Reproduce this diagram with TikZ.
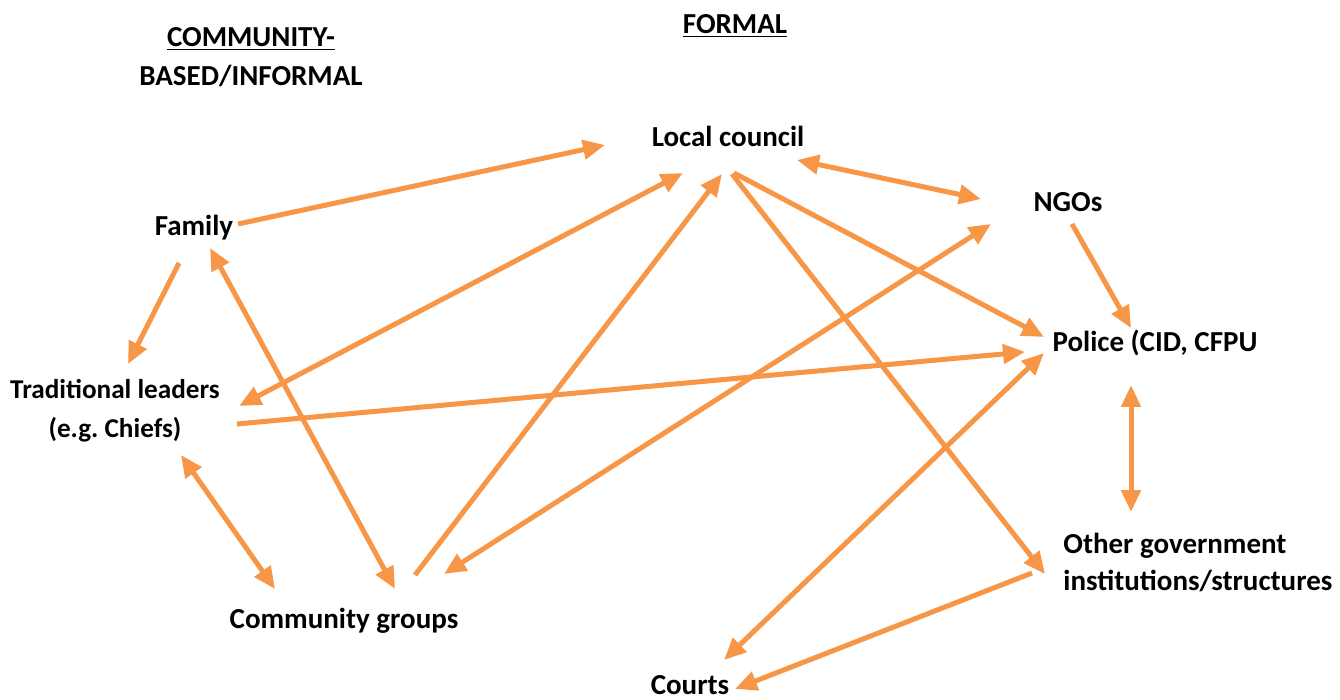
\documentclass[tikz,border=0pt]{standalone}
\usepackage{fontspec}
\setmainfont{Carlito}
\usetikzlibrary{arrows.meta,calc}
\definecolor{linkorange}{RGB}{247,150,70}

\tikzset{
  actors/.style={font=\bfseries\fontsize{14.5}{19.5}\selectfont, inner sep=0pt},
  actor/.style={actors, text height=1.0em, text depth=0.12em},
  link/.style={draw=linkorange, line width=2.5pt, -{Triangle[length=11pt,width=9.5pt]}},
  twoway/.style={link, {Triangle[length=11pt,width=9.5pt]}-{Triangle[length=11pt,width=9.5pt]}}
}

\begin{document}
\begin{tikzpicture}[x=0.5pt, y=-0.5pt]
  \useasboundingbox (0,0) rectangle (1340,700);

  \node[actors, align=center] (informal) at (251,57) {\underline{COMMUNITY-}\\BASED/INFORMAL};
  \node[actor] (formal) at (735,25) {\underline{FORMAL}};

  \node[actor] (council) at (728,138) {Local council};
  \node[actor] (family)  at (194,227) {Family};
  \node[actor] (ngos)    at (1068,203) {NGOs};
  \node[actor] (police)  at (1155,343) {Police (CID, CFPU};
  \node[actors, align=center, font=\bfseries\fontsize{13.6}{19.5}\selectfont] (trad) at (115,411) {Traditional leaders\\(e.g.\ Chiefs)};
  \node[actor] (groups)  at (344,620) {Community groups};
  \node[actors, align=left, anchor=west] (other) at (1063,562) {Other government\\[-1pt]institutions/structures};
  \node[actor] (courts)  at (690,686) {Courts};

  \draw[link]   ($(family)+(44,-3)$)   -- ($(council)+(-123,7)$);
  \draw[link]   ($(family)+(-15,36)$)  -- ($(trad)+(13,-47)$);
  \draw[twoway] ($(family)+(16,21)$)   -- ($(groups)+(51,-31)$);
  \draw[twoway] ($(trad)+(66,44)$)     -- ($(groups)+(-69,-31)$);
  \draw[twoway] ($(trad)+(124,-5)$)    -- ($(council)+(-45,35)$);
  \draw[link]   ($(groups)+(71,-45)$)  -- ($(council)+(-6,36)$);
  \draw[twoway] ($(groups)+(100,-46)$) -- ($(ngos)+(-77,21)$);
  \draw[link]   ($(trad)+(122,13)$)    -- ($(police)+(-130,9)$);
  \draw[twoway] ($(council)+(69,22)$)  -- ($(ngos)+(-87,-4)$);
  \draw[link]   ($(council)+(6,35)$)   -- ($(police)+(-111,-6)$);
  \draw[link]   ($(council)+(4,36)$)   -- ($(other.west)+(-18,12)$);
  \draw[link]   ($(ngos)+(4,21)$)      -- ($(police)+(-24,-15)$);
  \draw[twoway] ($(police)+(-24,42)$)  -- ($(police)+(-24,169)$);
  \draw[twoway] ($(police)+(-111,10)$) -- ($(courts)+(34,-26)$);
  \draw[link]   ($(other.west)+(-31,11)$) -- ($(courts)+(45,3)$);
\end{tikzpicture}
\end{document}
